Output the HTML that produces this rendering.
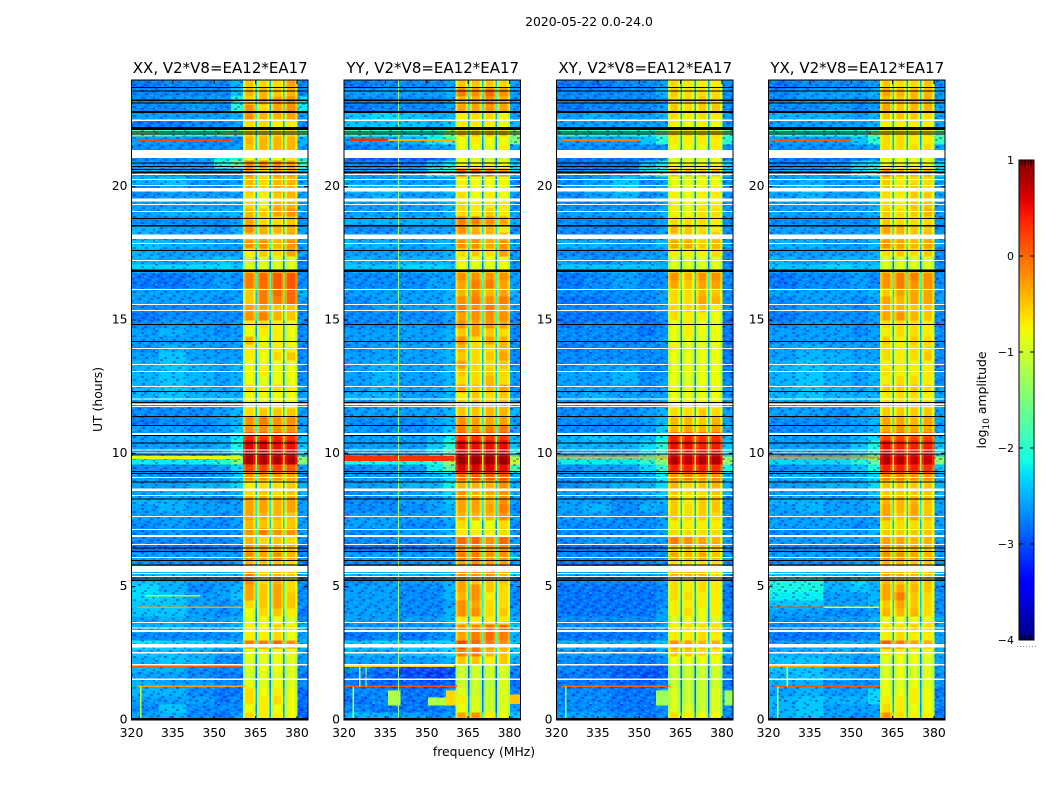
<!DOCTYPE html>
<html lang="en">
<head>
<meta charset="utf-8">
<title>2020-05-22 0.0-24.0</title>
<style>
html,body{margin:0;padding:0;background:#fff;width:1050px;height:800px;overflow:hidden}
svg{display:block}
text{font-family:"DejaVu Sans","Liberation Sans",sans-serif;fill:#000}
</style>
</head>
<body>
<svg id="fig" xmlns="http://www.w3.org/2000/svg" width="1050" height="800" viewBox="0 0 1050 800">
<defs>
<pattern id="speckle" width="31" height="22" patternUnits="userSpaceOnUse">
<rect x="0" y="0" width="3" height="2" fill="#0000b0" opacity=".35"/>
<rect x="6" y="2" width="3" height="2" fill="#00d8ff" opacity=".4"/>
<rect x="12" y="0" width="3" height="2" fill="#00d8ff" opacity=".3"/>
<rect x="17" y="2" width="3" height="2" fill="#0000b0" opacity=".35"/>
<rect x="24" y="1" width="3" height="2" fill="#00d8ff" opacity=".4"/>
<rect x="28" y="3" width="3" height="2" fill="#0000c0" opacity=".3"/>
<rect x="3" y="4" width="3" height="2" fill="#00d8ff" opacity=".35"/>
<rect x="9" y="5" width="3" height="2" fill="#0000b0" opacity=".35"/>
<rect x="15" y="4" width="3" height="2" fill="#00d8ff" opacity=".3"/>
<rect x="21" y="5" width="3" height="2" fill="#0000b0" opacity=".4"/>
<rect x="26" y="6" width="3" height="2" fill="#00d8ff" opacity=".35"/>
<rect x="0" y="8" width="3" height="2" fill="#00d8ff" opacity=".3"/>
<rect x="5" y="7" width="3" height="2" fill="#0000b0" opacity=".3"/>
<rect x="13" y="8" width="3" height="2" fill="#00d8ff" opacity=".4"/>
<rect x="18" y="9" width="3" height="2" fill="#0000b0" opacity=".35"/>
<rect x="23" y="9" width="3" height="2" fill="#00d8ff" opacity=".3"/>
<rect x="29" y="9" width="2" height="2" fill="#0000b0" opacity=".35"/>
<rect x="2" y="11" width="3" height="2" fill="#0000b0" opacity=".35"/>
<rect x="8" y="11" width="3" height="2" fill="#00d8ff" opacity=".35"/>
<rect x="14" y="12" width="3" height="2" fill="#0000b0" opacity=".4"/>
<rect x="20" y="12" width="3" height="2" fill="#00d8ff" opacity=".4"/>
<rect x="26" y="12" width="3" height="2" fill="#0000b0" opacity=".3"/>
<rect x="0" y="14" width="3" height="2" fill="#00d8ff" opacity=".35"/>
<rect x="6" y="14" width="3" height="2" fill="#0000b0" opacity=".35"/>
<rect x="11" y="15" width="3" height="2" fill="#00d8ff" opacity=".3"/>
<rect x="17" y="15" width="3" height="2" fill="#00d8ff" opacity=".35"/>
<rect x="23" y="15" width="3" height="2" fill="#0000b0" opacity=".35"/>
<rect x="28" y="15" width="3" height="2" fill="#00d8ff" opacity=".4"/>
<rect x="3" y="17" width="3" height="2" fill="#0000b0" opacity=".3"/>
<rect x="9" y="18" width="3" height="2" fill="#0000b0" opacity=".4"/>
<rect x="14" y="18" width="3" height="2" fill="#00d8ff" opacity=".35"/>
<rect x="20" y="18" width="3" height="2" fill="#0000b0" opacity=".3"/>
<rect x="26" y="18" width="3" height="2" fill="#00d8ff" opacity=".3"/>
<rect x="0" y="20" width="3" height="2" fill="#00d8ff" opacity=".4"/>
<rect x="6" y="20" width="3" height="2" fill="#00d8ff" opacity=".3"/>
<rect x="17" y="20" width="3" height="2" fill="#0000b0" opacity=".35"/>
<rect x="29" y="20" width="2" height="2" fill="#0000b0" opacity=".35"/>
</pattern>
<linearGradient id="jetGradient" x1="0" y1="1" x2="0" y2="0"></linearGradient>
</defs>
<text x="589" y="26" font-size="12.4" text-anchor="middle">2020-05-22 0.0-24.0</text>
<text x="484" y="756" font-size="12.4" text-anchor="middle">frequency (MHz)</text>
<text x="0" y="0" font-size="12.4" text-anchor="middle" transform="translate(102,399.5) rotate(-90)">UT (hours)</text>
<text x="0" y="0" font-size="12.4" text-anchor="middle" transform="translate(986,400) rotate(-90)">log<tspan font-size="9" dy="3">10</tspan><tspan dy="-3"> amplitude</tspan></text>
<g id="panels"></g>
<g id="colorbar"></g>
</svg>
<script>
const panelTitles = ["XX, V2*V8=EA12*EA17", "YY, V2*V8=EA12*EA17", "XY, V2*V8=EA12*EA17", "YX, V2*V8=EA12*EA17"];
const tickFreqMHz = [320, 335, 350, 365, 380];
const tickUTHours = [0, 5, 10, 15, 20];
const colorbarTicks = [1, 0, -1, -2, -3, -4];
const freqColumnsMHz = [[320,330],[330,340],[340,350],[350,356],[356,360.4],[360.4,365],[365.5,370.1],[370.6,375],[375.5,380.2],[380.2,384]];
const rowHours = 0.3;
const subbandProfile = [-2,1,1,1,-2];
const gapDrop = 18;

// log10 amplitude in tenths; rows run from UT 0 upward, 0.3 h each
const ampXX = [
[-26,-25,-27,-28,-26,-7,-8,-8,-9,-29],[-27,-24,-27,-27,-27,-9,-8,-9,-9,-29],[-26,-26,-26,-28,-27,-7,-8,-7,-9,-28],[-25,-25,-27,-28,-28,-7,-9,-8,-9,-29],[-25,-26,-26,-27,-27,-9,-10,-9,-10,-27],
[-26,-26,-27,-28,-28,-11,-10,-10,-10,-28],[-25,-25,-27,-27,-27,-10,-9,-9,-10,-27],[-25,-24,-25,-27,-27,-10,-10,-9,-10,-26],[-24,-24,-25,-26,-26,-9,-9,-9,-9,-26],[-22,-23,-23,-24,-24,-2,-2,-1,-3,-25],
[-27,-27,-27,-27,-26,-8,-8,-7,-9,-26],[-25,-25,-26,-26,-25,-8,-9,-6,-8,-25],[-26,-25,-26,-26,-25,-10,-9,-9,-10,-27],[-24,-24,-26,-27,-26,-9,-7,-6,-8,-28],[-24,-24,-26,-27,-26,-7,-6,-4,-6,-27],
[-23,-24,-26,-26,-24,-4,-6,-4,-6,-27],[-23,-25,-27,-26,-25,-4,-6,-4,-7,-27],[-24,-25,-26,-26,-26,-3,-7,-5,-7,-27],[-25,-24,-25,-25,-25,-2,-6,-5,-6,-26],[-27,-27,-27,-27,-26,-5,-6,-6,-7,-28],
[-26,-26,-26,-26,-26,-3,-4,-3,-5,-27],[-28,-28,-28,-27,-27,-4,-4,-5,-5,-28],[-27,-27,-27,-27,-26,-5,-7,-6,-7,-27],[-27,-26,-27,-27,-26,-3,-2,-3,-3,-26],[-27,-26,-27,-27,-26,-5,-6,-6,-6,-26],
[-26,-26,-26,-27,-26,-4,-5,-5,-6,-26],[-26,-25,-26,-26,-26,-4,-4,-5,-4,-26],[-25,-25,-26,-27,-26,-4,-4,-5,-4,-26],[-26,-25,-25,-26,-25,-7,-6,-7,-6,-25],[-26,-26,-25,-25,-23,-8,-7,-7,-6,-25],
[-26,-27,-27,-26,-24,-3,-3,-3,-4,-27],[-27,-27,-27,-26,-23,1,1,1,0,-26],[-22,-22,-22,-20,-15,7,7,7,7,-14],[-26,-26,-26,-25,-21,6,6,5,5,-24],[-26,-26,-26,-25,-21,5,5,4,4,-24],
[-26,-25,-25,-25,-22,3,2,3,2,-25],[-26,-26,-27,-26,-24,-3,-3,-3,-3,-26],[-28,-27,-27,-26,-25,-3,-2,-3,-3,-26],[-27,-27,-27,-26,-25,-7,-6,-6,-6,-26],[-27,-26,-27,-26,-25,-8,-8,-8,-8,-26],
[-25,-24,-25,-25,-25,-9,-9,-9,-9,-26],[-25,-24,-25,-26,-25,-7,-8,-7,-8,-26],[-25,-24,-25,-26,-25,-9,-10,-9,-9,-27],[-25,-24,-25,-26,-25,-9,-8,-9,-9,-27],[-25,-24,-25,-26,-25,-9,-9,-9,-9,-27],
[-26,-24,-26,-26,-26,-8,-9,-7,-6,-27],[-27,-25,-26,-27,-26,-8,-8,-8,-8,-27],[-26,-26,-26,-26,-26,-5,-9,-8,-9,-27],[-26,-25,-26,-27,-26,-9,-8,-8,-9,-27],[-27,-26,-26,-27,-26,-8,-7,-8,-9,-27],
[-28,-27,-27,-27,-27,-3,-2,-5,-6,-27],[-27,-27,-27,-27,-26,-4,-4,-6,-6,-27],[-26,-26,-26,-27,-26,-6,-2,-2,-1,-26],[-26,-26,-26,-26,-26,-6,-2,-1,-1,-25],[-28,-28,-27,-26,-27,-2,-1,0,0,-27],
[-28,-28,-27,-26,-27,-2,-1,0,0,-27],[-23,-23,-23,-23,-24,-10,-10,-10,-10,-27],[-25,-26,-25,-24,-25,-11,-10,-10,-10,-28],[-25,-26,-26,-26,-26,-8,-6,-7,-4,-26],[-24,-25,-25,-26,-26,-3,-3,-5,-3,-26],
[-25,-26,-26,-26,-25,-5,-5,-6,-4,-26],[-25,-26,-26,-27,-25,-3,-5,-5,-5,-26],[-27,-27,-27,-27,-26,-4,-7,-7,-6,-27],[-26,-25,-25,-25,-25,-5,-6,-4,-3,-26],[-26,-26,-26,-26,-26,-7,-9,-5,-5,-26],
[-27,-26,-26,-26,-26,-7,-8,-6,-5,-26],[-27,-25,-27,-27,-25,-5,-7,-4,-5,-25],[-25,-24,-26,-26,-26,-5,-7,-5,-5,-26],[-26,-27,-27,-27,-26,-3,-7,-4,-4,-23],[-26,-26,-26,-20,-16,-3,-3,-3,-4,-18],
[-27,-27,-26,-22,-21,-9,-9,-9,-8,-22],[-27,-27,-27,-27,-26,-6,-5,-5,-5,-26],[-26,-26,-27,-27,-27,-5,-5,-5,-5,-25],[-17,-19,-19,-17,-17,-7,-7,-7,-7,-17],[-28,-28,-27,-27,-26,-7,-7,-8,-8,-27],
[-26,-26,-26,-26,-25,-3,-5,-5,-4,-26],[-27,-27,-26,-27,-20,-3,-7,-4,-3,-22],[-27,-26,-26,-26,-20,-7,-5,-4,-3,-22],[-27,-27,-27,-27,-24,-5,-5,-6,-5,-27],[-28,-27,-27,-27,-25,-6,-7,-7,-4,-27]
];
const ampYY = [
[-25,-25,-26,-27,-26,-4,-3,-8,-9,-24],[-27,-28,-28,-28,-27,-9,-10,-11,-10,-26],[-28,-27,-28,-28,-25,-8,-10,-11,-10,-27],[-27,-27,-28,-28,-26,-10,-11,-11,-10,-27],[-28,-29,-29,-30,-29,-11,-11,-12,-10,-28],
[-28,-29,-30,-31,-30,-11,-11,-11,-11,-28],[-27,-28,-30,-30,-30,-11,-11,-11,-10,-27],[-26,-26,-26,-26,-25,-6,-6,-8,-6,-25],[-25,-25,-24,-24,-23,-2,-2,-5,-6,-24],[-24,-23,-23,-23,-23,1,-1,-2,-3,-24],
[-28,-27,-28,-27,-26,-4,-2,-1,-2,-25],[-27,-27,-27,-27,-26,-3,-2,-1,-1,-24],[-26,-26,-26,-26,-25,-8,-8,-8,-8,-25],[-26,-26,-27,-27,-25,-3,-3,-7,-6,-26],[-26,-26,-27,-27,-26,-3,-4,-7,-7,-27],
[-26,-26,-27,-27,-25,-5,-3,-8,-7,-27],[-26,-26,-27,-27,-25,-4,-3,-6,-7,-27],[-27,-26,-26,-26,-25,-4,-6,-6,-6,-26],[-25,-25,-25,-25,-24,-3,-3,-3,-5,-24],[-27,-27,-27,-26,-26,-4,-3,-4,-4,-26],
[-26,-26,-26,-26,-26,-2,-2,-3,-3,-25],[-28,-28,-28,-27,-27,-3,-3,-4,-3,-26],[-27,-27,-27,-26,-26,-1,-1,-3,-1,-26],[-27,-27,-26,-26,-25,-8,-8,-8,-7,-26],[-26,-26,-27,-27,-26,-7,-9,-9,-7,-27],
[-26,-26,-26,-26,-25,-5,-5,-5,-3,-26],[-27,-27,-27,-26,-25,-4,-4,-4,-2,-27],[-27,-27,-26,-26,-24,-4,-4,-5,-3,-26],[-27,-26,-26,-25,-23,-3,-5,-4,-3,-25],[-26,-26,-25,-25,-22,-5,-5,-5,-3,-25],
[-26,-26,-26,-25,-23,-1,0,0,0,-25],[-27,-26,-26,-22,-17,5,5,5,4,-18],[-21,-21,-21,-19,-12,8,8,8,8,-10],[-26,-26,-26,-23,-18,6,5,5,5,-22],[-26,-26,-26,-24,-20,5,4,4,4,-24],
[-26,-26,-26,-25,-22,2,2,2,2,-25],[-26,-27,-27,-26,-24,-2,-3,-2,-2,-26],[-27,-27,-27,-26,-25,-3,-4,-4,-4,-26],[-26,-26,-26,-26,-25,-6,-6,-5,-5,-25],[-27,-26,-26,-26,-25,-5,-5,-6,-5,-26],
[-25,-25,-26,-26,-25,-8,-6,-7,-6,-26],[-26,-25,-26,-26,-25,-4,-6,-5,-4,-27],[-26,-25,-26,-26,-25,-7,-7,-5,-7,-26],[-26,-25,-26,-26,-25,-6,-7,-6,-7,-26],[-26,-25,-26,-26,-25,-4,-7,-7,-6,-27],
[-26,-26,-26,-26,-25,-6,-7,-6,-4,-27],[-27,-26,-26,-26,-25,-5,-7,-7,-5,-27],[-26,-26,-26,-26,-25,-3,-7,-4,-5,-27],[-26,-26,-26,-26,-25,-6,-4,-6,-7,-27],[-27,-27,-26,-27,-26,-3,-4,-3,-4,-27],
[-27,-27,-27,-27,-26,-4,-3,-3,-3,-27],[-27,-26,-26,-26,-25,-2,-3,-2,-4,-26],[-27,-26,-26,-26,-25,-3,-2,-3,-2,-26],[-26,-26,-26,-26,-25,-5,-3,-5,-4,-25],[-27,-27,-27,-26,-26,-4,-2,-2,-4,-26],
[-27,-27,-27,-26,-26,-3,-3,-3,-3,-26],[-24,-24,-23,-23,-24,-9,-10,-10,-9,-26],[-25,-26,-25,-25,-25,-9,-9,-9,-9,-27],[-26,-26,-26,-26,-25,-7,-6,-7,-4,-26],[-25,-25,-26,-25,-25,-3,-3,-4,-3,-26],
[-26,-26,-26,-26,-25,-4,-4,-5,-5,-26],[-27,-27,-26,-26,-26,-3,-5,-5,-8,-27],[-25,-25,-25,-25,-25,-2,-2,-3,-4,-25],[-26,-26,-26,-26,-25,-7,-8,-6,-8,-26],[-26,-26,-26,-26,-25,-7,-8,-8,-8,-27],
[-26,-25,-26,-26,-25,-7,-9,-8,-9,-26],[-24,-24,-25,-25,-24,-8,-9,-9,-9,-26],[-26,-26,-26,-26,-26,-9,-9,-9,-9,-27],[-26,-26,-25,-21,-20,-1,-1,-2,-3,-23],[-27,-27,-27,-24,-22,-9,-9,-9,-9,-23],
[-29,-29,-29,-29,-27,-9,-10,-11,-10,-27],[-28,-27,-27,-26,-26,-9,-9,-10,-8,-26],[-26,-26,-25,-22,-18,-9,-8,-9,-9,-15],[-18,-20,-21,-21,-14,-6,-6,-6,-6,-14],[-24,-24,-24,-25,-24,-8,-8,-8,-9,-25],
[-24,-23,-24,-25,-25,-8,-7,-7,-9,-26],[-28,-27,-27,-27,-26,-4,-4,-3,-4,-26],[-27,-27,-27,-27,-26,-6,-5,-3,-5,-26],[-26,-26,-26,-26,-25,-2,-3,-1,-3,-26],[-28,-27,-27,-27,-26,-6,-6,-6,-7,-26]
];
const ampXY = [
[-26,-26,-27,-28,-27,-7,-8,-9,-9,-27],[-27,-27,-28,-28,-27,-10,-10,-11,-10,-27],[-27,-27,-28,-28,-24,-10,-11,-11,-10,-26],[-27,-27,-28,-28,-25,-10,-11,-11,-10,-27],[-28,-28,-29,-29,-28,-11,-11,-11,-11,-28],
[-28,-28,-29,-30,-29,-11,-11,-11,-11,-28],[-27,-28,-29,-29,-29,-11,-11,-11,-11,-28],[-27,-27,-27,-28,-27,-9,-9,-9,-9,-27],[-26,-26,-27,-27,-26,-6,-6,-7,-8,-26],[-25,-25,-25,-25,-24,-3,-4,-5,-5,-25],
[-28,-28,-28,-28,-27,-8,-8,-7,-8,-27],[-27,-27,-28,-27,-26,-8,-7,-7,-7,-26],[-27,-27,-27,-27,-26,-10,-9,-9,-10,-27],[-28,-28,-28,-28,-26,-8,-7,-9,-8,-28],[-28,-28,-28,-28,-27,-8,-8,-8,-8,-28],
[-28,-28,-28,-28,-27,-7,-7,-8,-8,-28],[-28,-28,-28,-28,-27,-7,-8,-7,-8,-28],[-27,-27,-27,-27,-26,-7,-8,-7,-8,-27],[-26,-26,-26,-26,-26,-5,-5,-5,-7,-26],[-28,-28,-28,-27,-27,-7,-7,-7,-7,-27],
[-27,-27,-27,-27,-27,-4,-5,-4,-6,-26],[-28,-28,-28,-28,-27,-6,-6,-6,-6,-27],[-27,-26,-26,-26,-26,-2,-3,-4,-5,-26],[-27,-27,-27,-27,-26,-7,-7,-7,-7,-27],[-27,-27,-27,-27,-26,-8,-8,-8,-8,-27],
[-26,-26,-27,-27,-26,-6,-7,-6,-7,-27],[-26,-25,-27,-25,-26,-6,-7,-6,-6,-27],[-26,-26,-27,-26,-25,-6,-8,-6,-6,-27],[-26,-26,-26,-25,-24,-6,-7,-7,-6,-25],[-27,-26,-25,-25,-23,-5,-7,-6,-5,-25],
[-26,-26,-26,-25,-22,-3,-2,-3,-3,-25],[-27,-26,-26,-23,-19,3,3,3,2,-21],[-22,-22,-22,-20,-14,7,7,7,7,-13],[-26,-26,-26,-23,-19,4,4,4,4,-23],[-25,-25,-25,-23,-20,4,4,3,3,-24],
[-25,-24,-25,-25,-22,3,3,2,2,-25],[-27,-27,-27,-26,-24,-5,-4,-5,-4,-26],[-27,-27,-27,-26,-25,-5,-5,-6,-5,-26],[-27,-27,-27,-26,-25,-7,-7,-6,-7,-26],[-27,-27,-27,-27,-26,-8,-8,-8,-8,-27],
[-26,-25,-26,-26,-26,-9,-9,-9,-9,-27],[-26,-26,-26,-27,-26,-9,-9,-9,-9,-27],[-26,-26,-25,-27,-26,-9,-10,-9,-9,-27],[-26,-26,-25,-27,-27,-9,-9,-9,-9,-28],[-27,-26,-26,-27,-27,-9,-9,-9,-9,-28],
[-27,-27,-27,-27,-27,-9,-9,-9,-9,-28],[-28,-27,-27,-27,-27,-8,-10,-9,-9,-28],[-27,-27,-27,-27,-26,-9,-9,-10,-9,-28],[-27,-27,-27,-28,-27,-9,-8,-9,-9,-28],[-28,-27,-27,-28,-27,-9,-8,-9,-9,-28],
[-28,-28,-28,-28,-27,-7,-8,-8,-9,-28],[-27,-27,-27,-27,-26,-7,-7,-6,-8,-27],[-28,-28,-27,-27,-26,-7,-7,-4,-5,-27],[-27,-27,-27,-27,-26,-7,-7,-5,-6,-27],[-28,-27,-26,-27,-27,-4,-6,-4,-4,-27],
[-28,-27,-26,-27,-27,-3,-5,-3,-3,-27],[-24,-24,-24,-24,-25,-10,-10,-10,-10,-27],[-26,-27,-26,-26,-26,-10,-10,-10,-10,-28],[-27,-27,-27,-26,-26,-8,-8,-8,-7,-27],[-25,-25,-26,-26,-25,-4,-4,-6,-5,-26],
[-27,-27,-27,-27,-26,-6,-6,-7,-6,-27],[-27,-27,-27,-27,-26,-5,-6,-7,-8,-27],[-27,-27,-27,-27,-26,-7,-7,-7,-8,-27],[-26,-26,-26,-26,-25,-8,-9,-7,-7,-26],[-27,-27,-27,-27,-26,-8,-9,-8,-8,-27],
[-27,-26,-25,-27,-26,-8,-9,-8,-8,-27],[-26,-25,-23,-26,-25,-8,-9,-8,-8,-26],[-27,-26,-24,-27,-26,-9,-10,-9,-9,-27],[-27,-27,-26,-22,-20,-5,-6,-6,-6,-24],[-28,-28,-28,-24,-22,-9,-9,-9,-9,-23],
[-28,-28,-28,-28,-27,-10,-10,-10,-9,-28],[-27,-27,-27,-27,-27,-9,-9,-9,-8,-27],[-26,-26,-26,-24,-20,-8,-8,-8,-8,-20],[-19,-20,-20,-20,-16,-7,-7,-7,-7,-17],[-26,-26,-26,-26,-26,-8,-9,-8,-9,-27],
[-26,-25,-26,-26,-25,-7,-8,-7,-8,-26],[-28,-27,-27,-27,-26,-6,-7,-6,-6,-27],[-27,-27,-27,-27,-26,-7,-7,-6,-7,-27],[-27,-27,-27,-27,-25,-6,-7,-7,-7,-27],[-28,-28,-27,-27,-26,-7,-8,-8,-8,-27]
];
const ampYX = [
[-25,-24,-26,-27,-26,-3,-7,-8,-8,-28],[-25,-24,-26,-26,-26,-7,-8,-9,-9,-28],[-25,-24,-25,-25,-23,-8,-8,-8,-9,-27],[-26,-25,-26,-26,-23,-9,-9,-8,-9,-28],[-25,-25,-27,-27,-27,-9,-10,-9,-10,-27],
[-25,-24,-25,-26,-26,-10,-9,-10,-10,-27],[-24,-24,-26,-26,-26,-10,-9,-10,-10,-26],[-24,-24,-25,-26,-26,-10,-9,-9,-10,-26],[-25,-25,-25,-26,-25,-8,-8,-9,-9,-26],[-26,-26,-25,-25,-25,0,-2,-4,-5,-26],
[-28,-28,-28,-27,-27,-8,-7,-8,-8,-26],[-27,-27,-27,-27,-26,-7,-7,-6,-7,-26],[-27,-27,-26,-26,-25,-9,-9,-9,-9,-26],[-26,-26,-27,-27,-26,-5,-5,-5,-7,-27],[-24,-24,-26,-26,-25,-6,-4,-6,-7,-27],
[-22,-22,-26,-26,-25,-4,-2,-6,-7,-27],[-21,-21,-25,-24,-25,-4,-4,-5,-6,-27],[-21,-21,-25,-23,-25,-5,-6,-6,-6,-26],[-24,-24,-25,-25,-25,-4,-5,-5,-6,-26],[-27,-27,-27,-26,-26,-5,-5,-6,-6,-27],
[-26,-26,-26,-26,-26,-3,-3,-4,-5,-26],[-27,-27,-27,-27,-27,-4,-5,-5,-6,-27],[-26,-26,-26,-26,-26,-4,-4,-5,-5,-26],[-27,-27,-26,-26,-25,-6,-6,-6,-6,-26],[-26,-26,-26,-27,-26,-7,-7,-7,-7,-26],
[-26,-26,-26,-26,-26,-4,-6,-4,-6,-26],[-26,-25,-26,-26,-25,-4,-5,-4,-6,-26],[-25,-25,-26,-26,-25,-5,-5,-5,-6,-26],[-26,-26,-26,-26,-24,-6,-6,-6,-6,-25],[-26,-26,-25,-25,-23,-6,-6,-6,-6,-25],
[-25,-25,-26,-25,-23,-2,-2,-3,-3,-25],[-27,-26,-26,-24,-21,3,3,3,2,-24],[-23,-23,-23,-21,-16,7,7,6,6,-14],[-26,-26,-26,-24,-20,5,4,4,4,-23],[-26,-26,-26,-24,-21,4,3,3,3,-24],
[-26,-26,-26,-25,-23,1,1,1,1,-25],[-27,-27,-26,-26,-25,-4,-3,-4,-4,-26],[-27,-27,-27,-26,-25,-4,-4,-5,-4,-26],[-26,-26,-27,-26,-25,-6,-6,-6,-6,-26],[-26,-26,-26,-26,-25,-7,-7,-7,-7,-26],
[-25,-24,-25,-25,-25,-8,-7,-7,-8,-26],[-25,-24,-25,-26,-25,-6,-6,-6,-7,-26],[-25,-24,-25,-26,-25,-8,-7,-7,-8,-27],[-25,-24,-25,-26,-25,-7,-8,-8,-8,-27],[-25,-24,-25,-25,-25,-8,-8,-8,-8,-27],
[-26,-25,-25,-26,-26,-7,-8,-7,-6,-27],[-26,-25,-26,-26,-26,-7,-8,-7,-7,-27],[-26,-26,-26,-26,-26,-6,-8,-6,-7,-27],[-26,-26,-26,-27,-26,-8,-7,-7,-8,-27],[-27,-26,-26,-27,-26,-7,-7,-7,-8,-27],
[-28,-27,-27,-27,-26,-4,-3,-5,-6,-27],[-27,-26,-26,-27,-26,-5,-5,-6,-6,-27],[-27,-26,-26,-27,-26,-4,-5,-4,-4,-26],[-26,-26,-26,-26,-25,-6,-4,-4,-4,-26],[-28,-27,-27,-26,-27,-3,-2,-3,-3,-27],
[-28,-27,-27,-26,-27,-3,-2,-2,-3,-27],[-24,-24,-23,-24,-24,-10,-10,-10,-10,-27],[-25,-26,-25,-25,-25,-10,-10,-10,-10,-28],[-26,-26,-26,-26,-25,-7,-6,-7,-6,-27],[-25,-25,-26,-26,-25,-3,-4,-5,-4,-26],
[-26,-26,-26,-26,-25,-5,-5,-6,-5,-26],[-26,-26,-26,-26,-26,-4,-5,-6,-6,-27],[-27,-27,-27,-27,-26,-6,-7,-7,-7,-27],[-26,-26,-26,-26,-25,-6,-7,-6,-5,-26],[-26,-26,-26,-26,-25,-7,-8,-6,-6,-26],
[-26,-25,-26,-26,-25,-7,-8,-6,-6,-26],[-25,-24,-26,-26,-25,-6,-7,-6,-7,-26],[-26,-25,-26,-26,-26,-6,-8,-7,-7,-26],[-26,-26,-26,-22,-20,-3,-5,-5,-5,-23],[-27,-27,-26,-23,-22,-9,-9,-9,-9,-23],
[-28,-28,-28,-28,-27,-8,-9,-9,-9,-27],[-27,-27,-27,-27,-26,-7,-7,-7,-7,-26],[-26,-26,-26,-24,-20,-7,-7,-8,-8,-19],[-19,-20,-20,-20,-15,-7,-7,-7,-7,-16],[-26,-26,-26,-26,-25,-8,-8,-8,-8,-26],
[-25,-25,-25,-26,-25,-6,-6,-6,-7,-26],[-27,-27,-26,-27,-26,-4,-6,-5,-5,-26],[-27,-26,-26,-27,-26,-6,-6,-5,-5,-26],[-27,-26,-26,-26,-25,-4,-5,-5,-5,-26],[-28,-27,-27,-27,-26,-6,-7,-7,-6,-27]
];
const panelAmps = [ampXX, ampYY, ampXY, ampYX];

// interference features: [UT start, UT end, MHz start, MHz end, log10 amp tenths]
const rfiXX = [[9.78,9.90,320,360,-9],[21.70,21.76,322,356,2],[4.20,4.25,322,360,-3],[1.99,2.04,320,360,1],[1.23,1.29,322,361,-3],[4.63,4.68,325,345,-12],[0,1.25,323.1,323.6,-11]];
const rfiYY = [[9.72,9.90,320,360,3],[21.72,21.80,322,336,3],[21.72,21.78,336,360,-4],[1.23,1.29,320,361,1],[1.99,2.04,320,360,-6],[0,24,339.6,340.0,-13],[0,1.25,323.1,323.6,-12],[1.25,2.0,325.5,326,-8],[1.25,2.0,327.8,328.2,-11],[0.55,1.1,336,340.5,-12],[0.55,0.85,350.5,357,-12],[0.55,1.1,357,360.4,-6],[0.6,0.95,380.2,384,-5]];
const rfiXY = [[9.80,9.88,320,360,-4],[21.72,21.78,322,350,-1],[1.23,1.29,322,361,0],[0.55,1.1,356,360.4,-13],[0.55,1.1,381,384,-13],[0,1.25,323.1,323.6,-13]];
const rfiYX = [[9.80,9.88,320,360,-2],[21.72,21.76,322,350,1],[4.2,4.26,322,340,1],[4.2,4.25,340,360,-8],[1.99,2.04,320,360,-4],[1.23,1.29,322,360,1],[0,1.25,323.1,323.6,-11],[1.25,2.0,326.5,327,-9]];
const panelRfi = [rfiXX, rfiYY, rfiXY, rfiYX];

// flagged time ranges shared by all panels, UT hours
const whiteGapsUT = [[1.50,1.55],[2.04,2.10],[2.49,2.55],[2.72,2.85],[3.30,3.37],[3.43,3.47],[3.64,3.68],[5.36,5.40],[5.47,5.51],[5.55,5.78],[6.08,6.12],[6.56,6.60],[6.86,6.94],[7.12,7.16],[7.61,7.65],[8.40,8.44],[8.59,8.68],[9.07,9.11],[10.00,10.03],[10.11,10.15],[10.68,10.77],[11.74,11.78],[11.82,11.86],[12.02,12.06],[12.49,12.53],[13.05,13.09],[13.31,13.35],[13.91,13.95],[15.34,15.38],[15.56,15.60],[16.12,16.16],[17.21,17.25],[17.85,17.89],[18.03,18.21],[19.05,19.09],[19.31,19.35],[19.45,19.55],[19.82,19.95],[20.03,20.07],[20.25,20.29],[20.44,20.48],[21.07,21.37],[22.47,22.51]];
const blackFlagsUT = [[0,0.07],[5.21,5.27],[5.31,5.34],[5.79,5.83],[5.96,6.00],[6.30,6.34],[6.43,6.47],[8.27,8.31],[8.91,8.95],[9.22,9.26],[9.30,9.34],[9.96,10.00],[10.37,10.40],[10.65,10.68],[11.03,11.07],[11.36,11.40],[11.89,11.93],[12.30,12.34],[14.17,14.21],[14.81,14.85],[16.80,16.89],[17.59,17.63],[18.51,18.56],[18.79,18.82],[20.52,20.56],[20.63,20.67],[20.74,20.78],[20.87,20.91],[21.96,22.00],[22.03,22.07],[22.12,22.24],[22.77,22.83],[23.12,23.16],[23.22,23.26],[23.57,23.61],[23.70,23.74]];

const SVGNS = 'http://www.w3.org/2000/svg';
const panelLefts = [131.5, 344, 556.5, 768.5];
const panelWidth = 176.5;
const plotTop = 80, plotBottom = 720;
const yOf = ut => plotBottom - ut * (plotBottom - plotTop) / 24;
const xOf = (left, f) => left + (f - 320) * panelWidth / 64;

function lerpTable(t, pts) {
  for (let i = 1; i < pts.length; i++) {
    if (t <= pts[i][0]) {
      const a = pts[i-1], b = pts[i];
      return a[1] + (b[1]-a[1]) * (t-a[0]) / (b[0]-a[0]);
    }
  }
  return pts[pts.length-1][1];
}
const jetR = [[0,0],[.35,0],[.66,1],[.89,1],[1,.5]];
const jetG = [[0,0],[.125,0],[.375,1],[.64,1],[.91,0],[1,0]];
const jetB = [[0,.5],[.11,1],[.34,1],[.65,0],[1,0]];
function jet(n) {
  const t = Math.max(0, Math.min(1, n));
  const c = p => Math.round(255 * lerpTable(t, p));
  return 'rgb(' + c(jetR) + ',' + c(jetG) + ',' + c(jetB) + ')';
}
const colorOf = tenths => jet((tenths / 10 + 4) / 5);

function rectEl(parent, x, y, w, h, fill) {
  const r = document.createElementNS(SVGNS, 'rect');
  r.setAttribute('x', x.toFixed(2));
  r.setAttribute('y', y.toFixed(2));
  r.setAttribute('width', w.toFixed(2));
  r.setAttribute('height', h.toFixed(2));
  r.setAttribute('fill', fill);
  parent.appendChild(r);
  return r;
}
function textEl(parent, x, y, size, anchor, str) {
  const t = document.createElementNS(SVGNS, 'text');
  t.setAttribute('x', x);
  t.setAttribute('y', y);
  t.setAttribute('font-size', size);
  t.setAttribute('text-anchor', anchor);
  t.textContent = str;
  parent.appendChild(t);
  return t;
}
function lineEl(parent, x1, y1, x2, y2, stroke) {
  const l = document.createElementNS(SVGNS, 'line');
  l.setAttribute('x1', x1);
  l.setAttribute('y1', y1);
  l.setAttribute('x2', x2);
  l.setAttribute('y2', y2);
  l.setAttribute('stroke', stroke);
  l.setAttribute('stroke-width', '1');
  parent.appendChild(l);
  return l;
}

const panelsG = document.getElementById('panels');
panelAmps.forEach((amps, p) => {
  const left = panelLefts[p];
  const g = document.createElementNS(SVGNS, 'g');
  
  
  const cells = document.createElementNS(SVGNS, 'g');
  cells.setAttribute('shape-rendering', 'crispEdges');
  g.appendChild(cells);

  amps.forEach((row, i) => {
    const y1 = yOf(i * rowHours), y0 = yOf((i + 1) * rowHours);
    freqColumnsMHz.forEach((col, c) => {
      const isBand = c >= 5 && c <= 8;
      const pieces = isBand ? subbandProfile.length : 1;
      for (let s = 0; s < pieces; s++) {
        const f0 = col[0] + (col[1] - col[0]) * s / pieces;
        const f1 = col[0] + (col[1] - col[0]) * (s + 1) / pieces;
        const v = row[c] + (isBand ? subbandProfile[s] : 0);
        const cell = rectEl(cells, xOf(left, f0), y0, xOf(left, f1) - xOf(left, f0) + 0.3, y1 - y0 + 0.3, colorOf(v));
        
        
      }
      if (c >= 5 && c <= 7) {
        const fa = col[1], fb = freqColumnsMHz[c + 1][0];
        const gap = rectEl(cells, xOf(left, fa), y0, xOf(left, fb) - xOf(left, fa) + 0.3, y1 - y0 + 0.3, colorOf(row[c] - gapDrop));
        
        
      }
    });
  });

  const tex1 = rectEl(g, xOf(left, 320), plotTop, xOf(left, 360.4) - xOf(left, 320), plotBottom - plotTop, 'url(#speckle)');
  
  
  const tex2 = rectEl(g, xOf(left, 380.2), plotTop, xOf(left, 384) - xOf(left, 380.2), plotBottom - plotTop, 'url(#speckle)');
  
  

  const marks = document.createElementNS(SVGNS, 'g');
  marks.setAttribute('shape-rendering', 'crispEdges');
  g.appendChild(marks);
  panelRfi[p].forEach(d => {
    const r = rectEl(marks, xOf(left, d[2]), yOf(d[1]), xOf(left, d[3]) - xOf(left, d[2]), yOf(d[0]) - yOf(d[1]), colorOf(d[4]));
    
    
  });
  whiteGapsUT.forEach(d => {
    const r = rectEl(marks, left, yOf(d[1]), panelWidth, yOf(d[0]) - yOf(d[1]), '#fff');
    
    
  });
  blackFlagsUT.forEach(d => {
    const r = rectEl(marks, left, yOf(d[1]), panelWidth, yOf(d[0]) - yOf(d[1]), '#000');
    
    
  });

  const frame = document.createElementNS(SVGNS, 'rect');
  frame.setAttribute('x', left);
  frame.setAttribute('y', plotTop);
  frame.setAttribute('width', panelWidth);
  frame.setAttribute('height', plotBottom - plotTop);
  frame.setAttribute('fill', 'none');
  frame.setAttribute('stroke', '#000');
  frame.setAttribute('stroke-width', '1');
  
  
  g.appendChild(frame);

  tickFreqMHz.forEach(f => {
    const x = xOf(left, f);
    const t1 = lineEl(g, x, plotBottom, x, plotBottom - 4, '#000');
    
    
    const t2 = lineEl(g, x, plotTop, x, plotTop + 4, '#000');
    
    
    const lab = textEl(g, x, 737, 12.4, 'middle', String(f));
    
    
  });
  tickUTHours.forEach(u => {
    const y = yOf(u);
    const t1 = lineEl(g, left, y, left + 4, y, '#000');
    
    
    const t2 = lineEl(g, left + panelWidth, y, left + panelWidth - 4, y, '#000');
    
    
    const lab = textEl(g, left - 4, y + 3.5, 12.4, 'end', String(u));
    
    
  });
  const title = textEl(g, left + panelWidth / 2 + 0.5, 73, 15, 'middle', panelTitles[p]);
  
  
  panelsG.appendChild(g);
});

// colorbar
const cbX = 1019, cbW = 15, cbTop = 160, cbBottom = 640;
const cbY = v => cbBottom - (v + 4) * (cbBottom - cbTop) / 5;
const grad = document.getElementById('jetGradient');
for (let k = 0; k <= 40; k++) {
  const st = document.createElementNS(SVGNS, 'stop');
  st.setAttribute('offset', (k / 40).toFixed(3));
  st.setAttribute('stop-color', jet(k / 40));
  grad.appendChild(st);
}
const cbG = document.getElementById('colorbar');
const cbFill = rectEl(cbG, cbX, cbTop, cbW, cbBottom - cbTop, 'url(#jetGradient)');


cbFill.setAttribute('stroke', '#000');
cbFill.setAttribute('stroke-width', '1');
colorbarTicks.forEach(v => {
  const y = cbY(v);
  const a = lineEl(cbG, cbX, y, cbX + 4, y, '#000');
  
  
  const b = lineEl(cbG, cbX + cbW, y, cbX + cbW - 4, y, '#000');
  
  
  const lab = textEl(cbG, 1014, y + 4, 11, 'end', v < 0 ? '\u2212' + Math.abs(v) : String(v));
  
  
});
[3, 6, 9, 12].forEach(dx => {
  const a = lineEl(cbG, cbX + dx, cbTop, cbX + dx, cbTop + 5, '#000');
  
  
  const b = lineEl(cbG, cbX + dx, cbBottom, cbX + dx, cbBottom - 5, '#000');
  
  
});
[1017, 1020, 1023, 1026, 1029, 1032, 1035].forEach(x => {
  const d = rectEl(cbG, x, 646, 1, 1, '#888');
  
  
});
</script>
</body>
</html>
